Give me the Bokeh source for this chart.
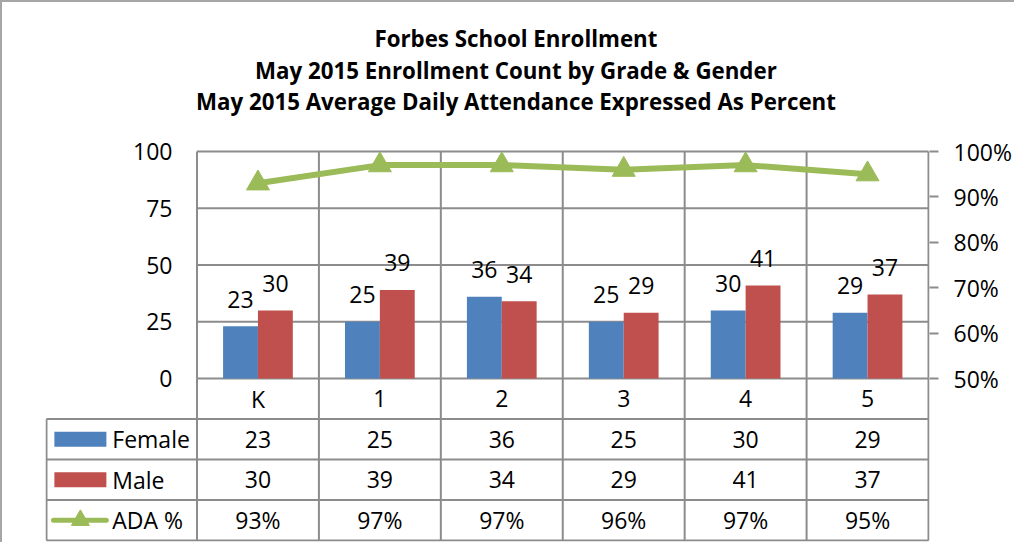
from bokeh.plotting import figure
from bokeh.models import (Range1d, LinearAxis, FixedTicker, NumeralTickFormatter,
                          ColumnDataSource)
from bokeh.layouts import column
from bokeh.core.properties import value
from bokeh.embed import file_html
from bokeh.resources import INLINE

grades = ["K", "1", "2", "3", "4", "5"]
female = [23, 25, 36, 25, 30, 29]
male = [30, 39, 34, 29, 41, 37]
ada = [93, 97, 97, 96, 97, 95]
left_ticks = [0, 25, 50, 75, 100]
right_ticks = [50, 60, 70, 80, 90, 100]
row_names = ["Female", "Male", "ADA %"]

title_lines = ["Forbes School Enrollment",
               "May 2015 Enrollment Count by Grade & Gender",
               "May 2015 Average Daily Attendance Expressed As Percent"]

BLUE = "#4F81BD"
RED = "#C0504D"
GREEN = "#9BBB59"
GRID = "#8C8C8C"
FONT = "Open Sans"
FS = "23px"

n = len(grades)
centers = [i + 0.5 for i in range(n)]
off = 0.143
bw = 0.286

# pixel geometry (frame spans the whole chart vertically)
CAT_PX = 122.33          # px per category
UNIT_PX = 2.27           # px per enrollment unit
ROW_PX = 40.5            # table row height
ABOVE_PX = 376           # px from the zero line up to frame top
BELOW_PX = 163           # px from the zero line down to frame bottom
x_start = -152 / CAT_PX  # frame left edge (left of the legend column)
x_tab = -151 / CAT_PX    # table left edge
x_end = n + 1 / CAT_PX

p = figure(width=1012, height=540, output_backend="svg", toolbar_location=None,
           x_range=Range1d(x_start, x_end),
           y_range=Range1d(-BELOW_PX / UNIT_PX, ABOVE_PX / UNIT_PX),
           x_axis_location=None,
           min_border_left=43, min_border_right=82, min_border_top=0, min_border_bottom=1)
p.title.visible = False
p.outline_line_color = None
p.grid.visible = False

PCT_PX = 0.5 / (100 * UNIT_PX)   # fraction per px on the percent axis
p.extra_y_ranges = {
    "pct": Range1d(0.5 - BELOW_PX * PCT_PX, 0.5 + ABOVE_PX * PCT_PX),
    "tbl": Range1d(-BELOW_PX / ROW_PX, ABOVE_PX / ROW_PX),
}

# left axis: labels pulled in to sit left of the plot area
ya = p.yaxis[0]
ya.ticker = FixedTicker(ticks=left_ticks)
ya.axis_line_color = None
ya.major_tick_line_color = None
ya.minor_tick_line_color = None
ya.major_tick_out = 0
ya.major_tick_in = 0
ya.major_label_standoff = -127
ya.major_label_text_font = FONT
ya.major_label_text_font_size = FS
ya.major_label_text_color = "black"

ra = LinearAxis(y_range_name="pct",
                ticker=FixedTicker(ticks=[t / 100 for t in right_ticks]),
                formatter=NumeralTickFormatter(format="0%"))
ra.axis_line_color = None
ra.major_tick_line_color = GRID
ra.major_tick_line_width = 2
ra.major_tick_out = 9
ra.major_tick_in = 0
ra.minor_tick_line_color = None
ra.major_label_standoff = 15
ra.major_label_text_font = FONT
ra.major_label_text_font_size = FS
ra.major_label_text_color = "black"
p.add_layout(ra, "right")

# plot-area grid lines
p.segment(x0=[0] * len(left_ticks), x1=[n] * len(left_ticks), y0=left_ticks, y1=left_ticks,
          line_color=GRID, line_width=2)
p.segment(x0=list(range(n + 1)), x1=list(range(n + 1)), y0=[0] * (n + 1), y1=[100] * (n + 1),
          line_color=GRID, line_width=2)

# table lines
p.segment(x0=list(range(n + 1)), x1=list(range(n + 1)), y0=[0] * (n + 1), y1=[-4] * (n + 1),
          y_range_name="tbl", line_color=GRID, line_width=2)
p.segment(x0=[x_tab], x1=[x_tab], y0=[-1], y1=[-4], y_range_name="tbl",
          line_color=GRID, line_width=2)
p.segment(x0=[x_tab] * 4, x1=[n] * 4, y0=[-1, -2, -3, -4], y1=[-1, -2, -3, -4],
          y_range_name="tbl", line_color=GRID, line_width=2)

src = ColumnDataSource(dict(
    xf=[c - off for c in centers], xm=[c + off for c in centers], xc=centers,
    female=female, male=male, ada=[a / 100 for a in ada],
    fl=[str(v) for v in female], ml=[str(v) for v in male], al=[f"{v}%" for v in ada],
    grade=grades,
    y_cat=[-0.5] * n, y_f=[-1.5] * n, y_m=[-2.5] * n, y_a=[-3.5] * n,
))

p.vbar(x="xf", top="female", width=bw, bottom=0, source=src, fill_color=BLUE, line_color=None)
p.vbar(x="xm", top="male", width=bw, bottom=0, source=src, fill_color=RED, line_color=None)

txt = dict(text_font=value(FONT), text_font_size=FS, text_color="black",
           text_align="center", text_baseline="middle")
p.text(x="xf", y="female", text="fl", y_offset=-27, source=src, **txt)
p.text(x="xm", y="male", text="ml", y_offset=-27, source=src, **txt)

p.line(x="xc", y="ada", y_range_name="pct", source=src, line_color=GREEN, line_width=6)
p.scatter(x="xc", y="ada", y_range_name="pct", source=src, marker="triangle", size=23,
          fill_color=GREEN, line_color=GREEN)

# table texts
p.text(x="xc", y="y_cat", text="grade", y_range_name="tbl", source=src, **txt)
p.text(x="xc", y="y_f", text="fl", y_range_name="tbl", source=src, **txt)
p.text(x="xc", y="y_m", text="ml", y_range_name="tbl", source=src, **txt)
p.text(x="xc", y="y_a", text="al", y_range_name="tbl", source=src, **txt)

# legend keys in the table
kx = (85 - 202) / CAT_PX
tx = (117 - 202) / CAT_PX
p.rect(x=[kx, kx], y=[-1.5, -2.5], width=52, height=15, width_units="screen",
       height_units="screen", fill_color=[BLUE, RED], line_color=None, y_range_name="tbl")
p.segment(x0=[(58 - 202) / CAT_PX], y0=[-3.5], x1=[(111 - 202) / CAT_PX], y1=[-3.5],
          line_color=GREEN, line_width=5, line_cap="round", y_range_name="tbl")
p.scatter(x=[kx], y=[-3.5], marker="triangle", size=18, fill_color=GREEN, line_color=GREEN,
          y_range_name="tbl")
p.text(x=[tx] * 3, y=[-1.5, -2.5, -3.5], text=row_names, y_range_name="tbl",
       text_font=value(FONT), text_font_size=FS, text_color="black",
       text_align="left", text_baseline="middle")

# title: three centred bold lines above the plot area
title_x = (522 - 202) / CAT_PX
title_y = [(383 - b) / ROW_PX for b in (42.7, 75.0, 106.0)]
p.text(x=[title_x] * 3, y=title_y, text=title_lines, y_range_name="tbl",
       text_font=value(FONT), text_font_style="bold", text_font_size="22.3px",
       text_color="black", text_align="center", text_baseline="alphabetic")

layout = column(p, styles={"border-left": "2px solid #A6A6A6", "border-top": "2px solid #A6A6A6"})

open("out.html", "w").write(file_html(layout, INLINE))
